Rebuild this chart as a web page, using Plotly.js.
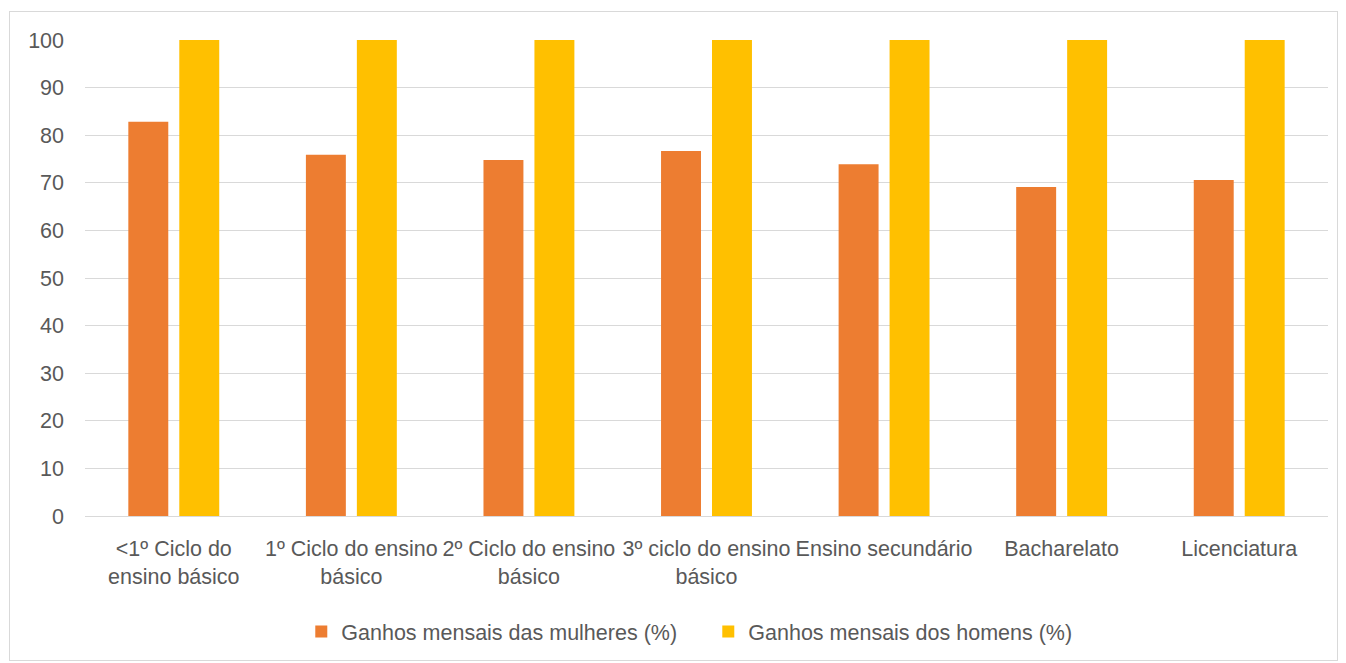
<!DOCTYPE html>
<html>
<head>
<meta charset="utf-8">
<script src="https://cdn.plot.ly/plotly-3.0.1.min.js"></script>
<style>
html,body{margin:0;padding:0;background:#fff;}
#frame{position:absolute;left:9px;top:11px;width:1327px;height:648px;border:1px solid #d9d9d9;}
#chart{position:absolute;left:0;top:0;width:1346px;height:663px;}
</style>
</head>
<body>
<div id="frame"></div>
<div id="chart"></div>
<script>
const categories = [
  "&lt;1º Ciclo do<br>ensino básico",
  "1º Ciclo do ensino<br>básico",
  "2º Ciclo do ensino<br>básico",
  "3º ciclo do ensino<br>básico",
  "Ensino secundário",
  "Bacharelato",
  "Licenciatura"
];
const mulheres = [82.8, 75.9, 74.8, 76.7, 73.9, 69.1, 70.6];
const homens = [100, 100, 100, 100, 100, 100, 100];
const yTicks = [0, 10, 20, 30, 40, 50, 60, 70, 80, 90, 100];

const font = {family: "Liberation Sans, Arial, sans-serif", size: 21.5, color: "#595959"};

const data = [
  {type: "bar", x: categories, y: mulheres, name: "Ganhos mensais das mulheres (%)",
   marker: {color: "#ED7D31"}, hoverinfo: "y"},
  {type: "bar", x: categories, y: homens, name: "Ganhos mensais dos homens (%)",
   marker: {color: "#FFC000"}, hoverinfo: "y"}
];

const layout = {
  width: 1346, height: 663,
  paper_bgcolor: "rgba(0,0,0,0)", plot_bgcolor: "rgba(0,0,0,0)",
  margin: {l: 85, r: 18, t: 40, b: 146},
  font: font,
  barmode: "group",
  bargap: 0.426,
  bargroupgap: 0.216,
  showlegend: true,
  legend: {orientation: "h", x: 0.174, xanchor: "left", y: -0.24, yanchor: "middle",
           font: font, entrywidth: 362, entrywidthmode: "pixels", traceorder: "normal"},
  xaxis: {
    tickfont: font, showgrid: false, showline: true, linecolor: "#d9d9d9", linewidth: 1,
    ticks: "", tickangle: 0, automargin: false, ticklabelstandoff: 13
  },
  yaxis: {
    range: [0, 100], tickvals: yTicks, ticktext: yTicks.map(String), tickfont: font,
    showgrid: true, gridcolor: "#d9d9d9", gridwidth: 1, zeroline: false, showline: false,
    ticks: "", ticklabelstandoff: 20, automargin: false
  }
};

Plotly.newPlot("chart", data, layout, {displayModeBar: false, staticPlot: true});
</script>
</body>
</html>
